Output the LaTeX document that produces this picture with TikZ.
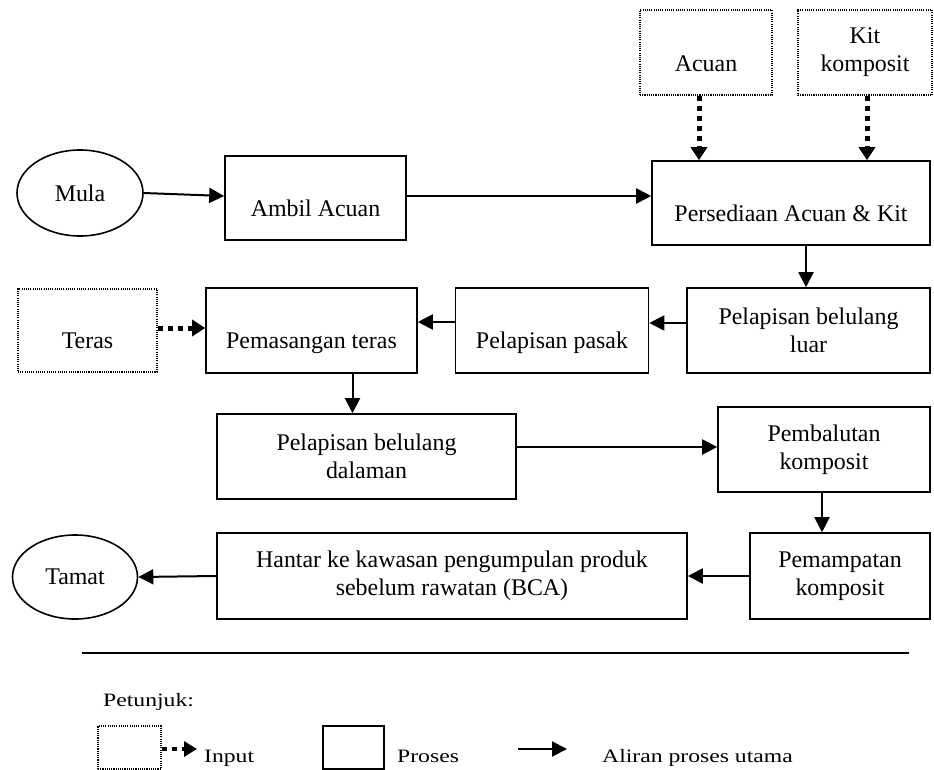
\documentclass[tikz,border=0pt]{standalone}
\usepackage{fontspec}
\usepackage{graphicx}
\setmainfont{Liberation Serif}
\usetikzlibrary{shapes.geometric,arrows.meta}
\begin{document}
\begin{tikzpicture}[x=1bp,y=-1bp,
  every node/.style={font=\fontsize{24}{28}\selectfont, inner sep=0pt},
  proc/.style={draw, line width=1.6bp, rectangle, align=center},
  inp/.style={draw, line width=1.1bp, dash pattern=on 1.1bp off 1.1bp, rectangle, align=center},
  oval/.style={draw, line width=1.6bp, ellipse},
  low/.style={text height=36bp, text depth=0bp},
  flow/.style={line width=2bp, -{Triangle[width=15bp,length=15bp]}},
  inflow/.style={line width=5bp, dash pattern=on 5bp off 5bp, -{Triangle[width=16bp,length=13bp]}},
  legtext/.style={font=\fontsize{19}{22}\selectfont, anchor=base west, inner sep=0pt}
]
\fill[white] (0,0) rectangle (934,770);
\useasboundingbox (0,0) rectangle (934,770);

% inputs
\node[inp, minimum width=132bp, minimum height=85bp, text height=39bp, text depth=0bp] (acuan) at (706,52.5) {Acuan};
\node[inp, minimum width=134bp, minimum height=85bp] (kit) at (865,52.5) {Kit\\komposit};
\node[inp, minimum width=139bp, minimum height=83bp, low] (teras) at (87.5,330.5) {Teras};

% start / end
\node[oval, minimum width=126bp, minimum height=86bp] (mula) at (80,193) {Mula};
\node[oval, minimum width=125bp, minimum height=84bp] (tamat) at (75,577) {Tamat};

% processes
\node[proc, minimum width=181bp, minimum height=84bp, low] (ambil) at (315.5,198) {Ambil Acuan};
\node[proc, minimum width=278bp, minimum height=84bp, low] (pers) at (791,203) {Persediaan Acuan \& Kit};
\node[proc, minimum width=211bp, minimum height=85bp, low] (pemas) at (311.5,330.5) {Pemasangan teras};
\node[proc, minimum width=193bp, minimum height=85bp, low] (pasak) at (552,330.5) {Pelapisan pasak};
\node[proc, minimum width=243bp, minimum height=85bp] (luar) at (808.5,330.5) {Pelapisan belulang\\luar};
\node[proc, minimum width=299bp, minimum height=85bp] (dalam) at (366.5,456.5) {Pelapisan belulang\\dalaman};
\node[proc, minimum width=212bp, minimum height=85bp] (balut) at (824,449.5) {Pembalutan\\komposit};
\node[proc, minimum width=180bp, minimum height=86bp] (mampat) at (840,576) {Pemampatan\\komposit};
\node[proc, minimum width=470bp, minimum height=86bp] (hantar) at (452,576) {Hantar ke kawasan pengumpulan produk\\sebelum rawatan (BCA)};

% input arrows
\draw[inflow] ([xshift=-7bp]acuan.south) -- ([xshift=-7bp]acuan.south |- pers.north);
\draw[inflow] ([xshift=2bp]kit.south) -- ([xshift=2bp]kit.south |- pers.north);
\draw[inflow] ([yshift=2.5bp]teras.east) -- ([yshift=2.5bp]teras.east -| pemas.west);

% main flow
\draw[flow] (mula.east) -- ([yshift=2bp]ambil.west);
\draw[flow] ([yshift=2bp]ambil.east) -- ([yshift=2bp]ambil.east -| pers.west);
\draw[flow] ([xshift=15bp]pers.south) -- ([xshift=15bp]pers.south |- luar.north);
\draw[flow] ([yshift=7.5bp]luar.west) -- ([yshift=7.5bp]luar.west -| pasak.east);
\draw[flow] ([yshift=8.5bp]pasak.west) -- ([yshift=8.5bp]pasak.west -| pemas.east);
\draw[flow] ([xshift=41bp]pemas.south) -- ([xshift=41bp]pemas.south |- dalam.north);
\draw[flow] ([yshift=9.5bp]dalam.east) -- ([yshift=9.5bp]dalam.east -| balut.west);
\draw[flow] ([xshift=-2bp]balut.south) -- ([xshift=-2bp]balut.south |- mampat.north);
\draw[flow] (mampat.west) -- (hantar.east);
\draw[flow] (hantar.west) -- (tamat.east);

% legend
\coordinate (rule1) at (82,653);
\coordinate (rule2) at (909,653);
\draw[line width=1.5bp] (rule1) -- (rule2);
\node[legtext] (petunjuk) at (103,706) {\scalebox{1.25}[1]{Petunjuk:}};
\node[inp, minimum width=63bp, minimum height=43bp] (lgin) at (129.5,747.5) {};
\node[legtext] (lgintext) at (204,762) {\scalebox{1.25}[1]{Input}};
\draw[line width=4bp, dash pattern=on 5bp off 5bp, -{Triangle[width=15bp,length=13bp]}] ([yshift=-1.5bp]lgin.east) -- (197,749);
\node[proc, line width=1.2bp, minimum width=61bp, minimum height=43bp] (lgproc) at (353.5,747.5) {};
\node[legtext] (lgproctext) at (397,762) {\scalebox{1.25}[1]{Proses}};
\coordinate (lga1) at (518,749);
\coordinate (lga2) at (567,749);
\draw[flow] (lga1) -- (lga2);
\node[legtext] (lgflowtext) at (602,762) {\scalebox{1.25}[1]{Aliran proses utama}};
\end{tikzpicture}
\end{document}
